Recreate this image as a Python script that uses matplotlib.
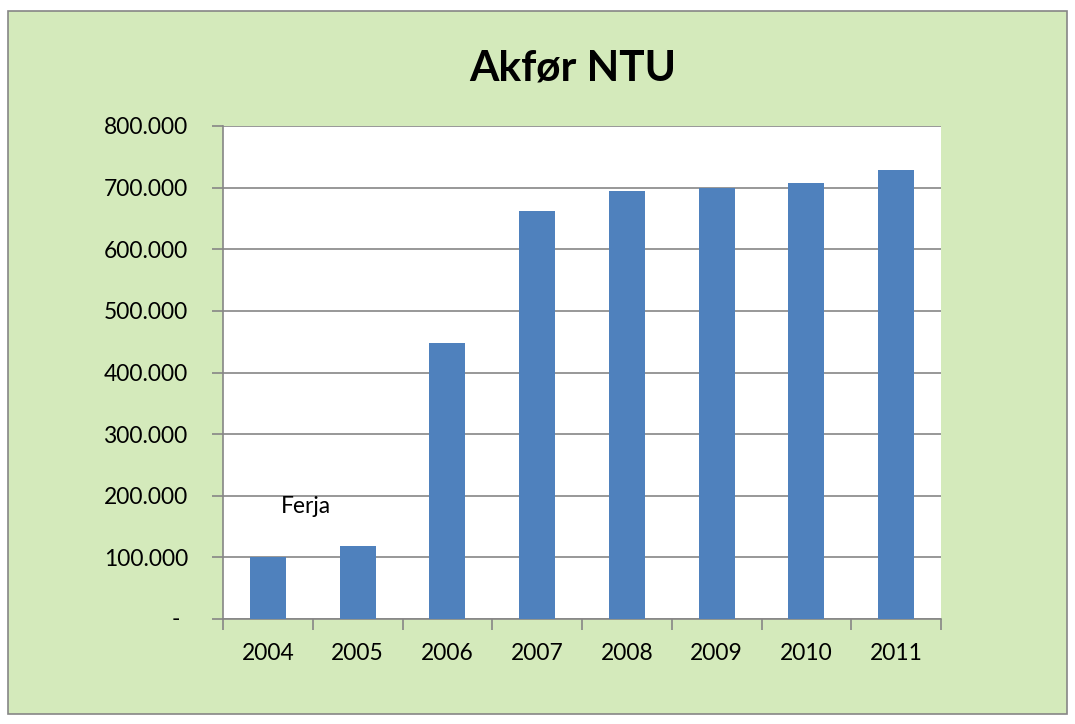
import matplotlib.pyplot as plt
from matplotlib.patches import Rectangle
from matplotlib.ticker import FuncFormatter, FixedLocator

# data
years = ['2004', '2005', '2006', '2007', '2008', '2009', '2010', '2011']
values = [100000, 119000, 448000, 662000, 695000, 699000, 708000, 728000]
yticks = [0, 100000, 200000, 300000, 400000, 500000, 600000, 700000, 800000]

plt.rcParams['font.family'] = ['Lato', 'DejaVu Sans']

fig = plt.figure(figsize=(10.75, 7.24), dpi=100)
fig.patch.set_facecolor('white')

# green chart area with gray frame
W, H = 1075, 724
frame = Rectangle((8 / W, 1 - 714 / H), (1067 - 8) / W, (714 - 11) / H,
                  transform=fig.transFigure, facecolor='#D4EABB',
                  edgecolor='#868686', linewidth=1.2, zorder=-10)
fig.add_artist(frame)

ax = fig.add_axes([223 / W, 1 - 619 / H, (941 - 223) / W, (619 - 126) / H])
ax.set_zorder(1)
ax.set_facecolor('white')

x = list(range(len(years)))
ax.bar(x, values, width=0.4, color='#4F81BD', zorder=3)

ax.set_xlim(-0.5, len(years) - 0.5)
ax.set_ylim(0, 800000)

# zero is shown as a dash, set further left (accounting style)
ax.set_yticks(yticks)
ax.yaxis.set_major_formatter(FuncFormatter(
    lambda v, p: '' if v == 0 else f'{int(v):,}'.replace(',', '.')))
ax.text(-1.024, 0, '-', ha='center', va='center', fontsize=16.4, clip_on=False)
ax.yaxis.grid(True, color='#868686', linewidth=1.2, zorder=1)
ax.set_axisbelow(True)

ax.set_xticks(x)
ax.set_xticklabels(years)
ax.xaxis.set_minor_locator(FixedLocator([i - 0.5 for i in range(len(years) + 1)]))

ax.tick_params(axis='x', which='major', length=0, pad=17, labelsize=16.4)
ax.tick_params(axis='x', which='minor', length=8, color='#868686', width=1.2)
ax.tick_params(axis='y', length=8, color='#868686', width=1.2, pad=17, labelsize=16.4)

for s in ['top', 'right']:
    ax.spines[s].set_visible(False)
for s in ['left', 'bottom']:
    ax.spines[s].set_color('#868686')
    ax.spines[s].set_linewidth(1.2)

ax.text(0.42, 182000, 'Ferja', ha='center', va='center', fontsize=16.4)

fig.text(573 / W, 1 - 80 / H, 'Akfør NTU', ha='center', va='baseline',
         fontsize=30.5, fontweight='bold')

fig.savefig('out.png', dpi=100)
